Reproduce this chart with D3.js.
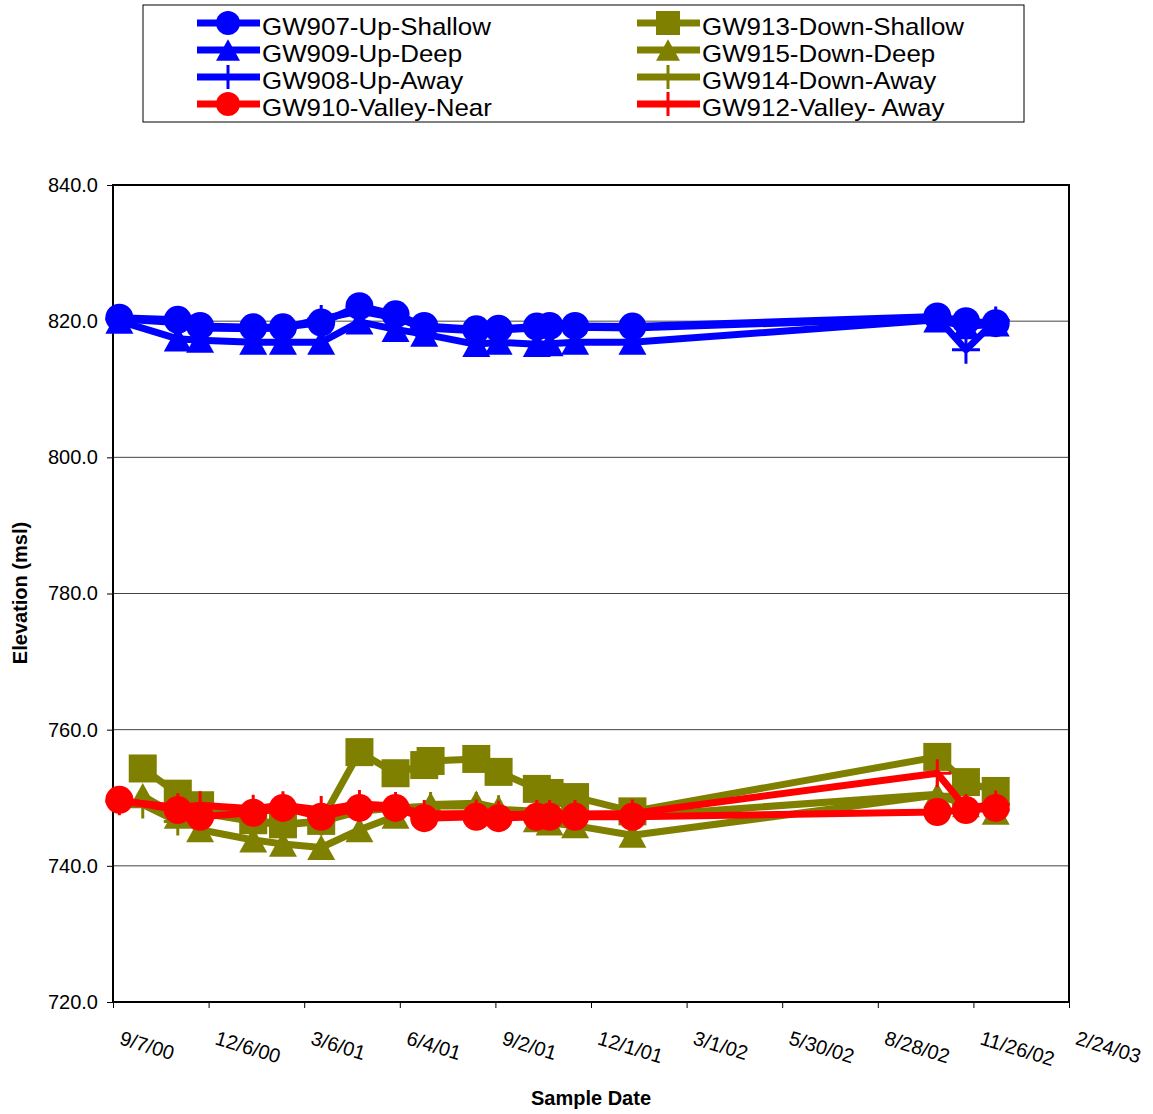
<!DOCTYPE html>
<html>
<head>
<meta charset="utf-8">
<script src="https://cdn.jsdelivr.net/npm/d3@7"></script>
<style>
  body { margin: 0; background: #fff; }
  text { font-family: Arial, "Liberation Sans", sans-serif; }
</style>
</head>
<body>
<svg id="chart" width="1153" height="1114"></svg>
<script>
// ---- data ----------------------------------------------------------------
const xTickLabels = ["9/7/00","12/6/00","3/6/01","6/4/01","9/2/01","12/1/01","3/1/02","5/30/02","8/28/02","11/26/02","2/24/03"];
const yTickLabels = [720, 740, 760, 780, 800, 820, 840];

// sampling dates, upgradient and valley wells
const upDates = ["9/13/00","11/7/00","11/28/00","1/17/01","2/14/01","3/22/01","4/27/01","5/31/01","6/27/01",
                 "8/15/01","9/5/01","10/11/01","10/23/01","11/16/01","1/9/02","10/23/02","11/19/02","12/17/02"];
// sampling dates, downgradient wells
const downDates = ["10/5/00","11/7/00","11/28/00","1/17/01","2/14/01","3/22/01","4/27/01","5/31/01","6/27/01","7/3/01",
                   "8/15/01","9/5/01","10/11/01","10/23/01","11/16/01","1/9/02","10/23/02","11/19/02","12/17/02"];
const deepDates = ["10/5/00","11/7/00","11/28/00","1/17/01","2/14/01","3/22/01","4/27/01","5/31/01","7/3/01",
                   "8/15/01","9/5/01","10/11/01","10/23/01","11/16/01","1/9/02","10/23/02","11/19/02","12/17/02"];

const gw907 = [820.5, 820.2, 819.3, 819.1, 819.1, 819.8, 822.2, 821.0, 819.3, 818.8, 818.9, 819.2, 819.3, 819.3, 819.2, 820.7, 820.0, 819.7];
const gw909 = [820.0, 817.4, 817.2, 816.9, 816.9, 816.9, 819.9, 818.8, 818.1, 816.6, 816.9, 816.6, 816.7, 816.9, 816.9, 820.2, 819.2, 819.6];
const gw908 = [820.3, 819.8, 819.0, 818.9, 819.0, 820.3, 821.5, 820.5, 819.0, 818.6, 818.7, 819.0, 819.0, 819.1, 819.0, 820.5, 815.8, 820.1];
const gw910 = [749.7, 748.2, 747.2, 747.8, 748.5, 747.2, 748.5, 748.5, 747.0, 747.2, 747.0, 747.2, 747.2, 747.2, 747.2, 747.9, 748.2, 748.5];
const gw912 = [749.5, 748.6, 748.9, 748.4, 748.9, 748.2, 749.1, 748.8, 747.6, 747.7, 747.5, 747.6, 747.6, 747.6, 747.7, 753.6, 748.5, 749.0];
const gw913 = [754.3, 750.6, 748.9, 746.7, 746.1, 746.6, 756.7, 753.6, 754.8, 755.4, 755.7, 753.8, 751.3, 750.7, 750.1, 748.0, 756.0, 752.3, 751.0];
const gw915 = [750.3, 747.3, 745.3, 743.8, 743.2, 742.7, 745.3, 747.3, 749.0, 749.2, 748.5, 746.8, 746.3, 745.9, 744.5, 750.4, 749.0, 747.9];
const gw914 = [749.0, 746.5, 747.8, 746.5, 746.0, 746.5, 748.0, 748.5, 748.8, 748.8, 748.3, 748.0, 747.8, 747.6, 747.3, 750.5, 749.0, 748.2];

const BLUE = "#0000ff", OLIVE = "#808000", RED = "#ff0000";

// series in drawing order (later ones sit on top)
const series = [
  { name: "GW907-Up-Shallow",   dates: upDates,   values: gw907, color: BLUE,  marker: "circle" },
  { name: "GW909-Up-Deep",      dates: upDates,   values: gw909, color: BLUE,  marker: "triangle" },
  { name: "GW908-Up-Away",      dates: upDates,   values: gw908, color: BLUE,  marker: "plus" },
  { name: "GW913-Down-Shallow", dates: downDates, values: gw913, color: OLIVE, marker: "square" },
  { name: "GW915-Down-Deep",    dates: deepDates, values: gw915, color: OLIVE, marker: "triangle" },
  { name: "GW914-Down-Away",    dates: deepDates, values: gw914, color: OLIVE, marker: "plus" },
  { name: "GW912-Valley- Away", dates: upDates,   values: gw912, color: RED,   marker: "plus" },
  { name: "GW910-Valley-Near",  dates: upDates,   values: gw910, color: RED,   marker: "circle" }
];
// legend layout: two columns, four rows
const legendLeft  = ["GW907-Up-Shallow","GW909-Up-Deep","GW908-Up-Away","GW910-Valley-Near"];
const legendRight = ["GW913-Down-Shallow","GW915-Down-Deep","GW914-Down-Away","GW912-Valley- Away"];

// ---- chart ---------------------------------------------------------------
const parse = d3.timeParse("%m/%d/%y");
const fmt = d3.timeFormat("%-m/%-d/%y");
const svg = d3.select("#chart");

const plot = { left: 113, right: 1069, top: 185, bottom: 1002 };
const x = d3.scaleTime()
  .domain([parse(xTickLabels[0]), parse(xTickLabels[xTickLabels.length - 1])])
  .range([plot.left, plot.right]);
const y = d3.scaleLinear().domain([720, 840]).range([plot.bottom, plot.top]);

// horizontal gridlines
svg.append("g").selectAll("line")
  .data(yTickLabels.filter(v => v > 720 && v < 840))
  .join("line")
  .attr("x1", plot.left).attr("x2", plot.right)
  .attr("y1", d => y(d)).attr("y2", d => y(d))
  .attr("stroke", "#444").attr("stroke-width", 1);

// axes
const xAxis = svg.append("g")
  .attr("transform", `translate(0,${plot.bottom})`)
  .call(d3.axisBottom(x).tickValues(xTickLabels.map(parse)).tickFormat(fmt).tickSize(6).tickSizeOuter(0));
xAxis.select(".domain").remove();
xAxis.selectAll(".tick line").attr("stroke", "#000");
xAxis.selectAll(".tick text")
  .attr("font-size", 20).attr("fill", "#000")
  .attr("text-anchor", "start")
  .attr("dy", 0)
  .attr("transform", "translate(5,42) rotate(17)")
  .attr("y", 0).attr("x", 0);

const yAxis = svg.append("g")
  .attr("transform", `translate(${plot.left},0)`)
  .call(d3.axisLeft(y).tickValues(yTickLabels).tickFormat(d3.format(".1f")).tickSize(6).tickSizeOuter(0));
yAxis.select(".domain").remove();
yAxis.selectAll(".tick line").attr("stroke", "#000");
yAxis.selectAll(".tick text").attr("font-size", 20).attr("fill", "#000").attr("x", -15);

// plot frame
svg.append("rect")
  .attr("x", plot.left).attr("y", plot.top)
  .attr("width", plot.right - plot.left).attr("height", plot.bottom - plot.top)
  .attr("fill", "none").attr("stroke", "#000").attr("stroke-width", 2);

// axis titles
svg.append("text")
  .attr("x", 591).attr("y", 1105)
  .attr("text-anchor", "middle").attr("font-size", 20).attr("font-weight", "bold")
  .text("Sample Date");
svg.append("text")
  .attr("transform", "translate(27,593) rotate(-90)")
  .attr("text-anchor", "middle").attr("font-size", 20).attr("font-weight", "bold")
  .text("Elevation (msl)");

// marker drawing
function drawMarker(g, kind, color, size) {
  const s = size / 2;
  if (kind === "circle") {
    g.append("circle").attr("r", s).attr("fill", color);
  } else if (kind === "square") {
    g.append("rect").attr("x", -s).attr("y", -s).attr("width", size).attr("height", size).attr("fill", color);
  } else if (kind === "triangle") {
    g.append("path").attr("d", `M0,${-s * 0.9}L${s},${s * 0.9}L${-s},${s * 0.9}Z`).attr("fill", color);
  } else if (kind === "plus") {
    g.append("path").attr("d", `M${-s},0H${s}M0,${-s}V${s}`).attr("stroke", color).attr("stroke-width", 3).attr("fill", "none");
  }
}

const line = d3.line().x(d => x(d.date)).y(d => y(d.value));
const dataLayer = svg.append("g");
series.forEach(s => {
  const pts = s.dates.map((d, i) => ({ date: parse(d), value: s.values[i] }));
  const g = dataLayer.append("g");
  g.append("path").datum(pts).attr("d", line)
    .attr("fill", "none").attr("stroke", s.color).attr("stroke-width", 7)
    .attr("stroke-linejoin", "round");
  g.selectAll("g.m").data(pts).join("g").attr("class", "m")
    .attr("transform", d => `translate(${x(d.date)},${y(d.value)})`)
    .each(function () { drawMarker(d3.select(this), s.marker, s.color, 28); });
});

// legend
const lg = svg.append("g");
lg.append("rect").attr("x", 143).attr("y", 5).attr("width", 881).attr("height", 117)
  .attr("fill", "#fff").attr("stroke", "#000").attr("stroke-width", 1);
const byName = new Map(series.map(s => [s.name, s]));
[[legendLeft, 197], [legendRight, 637]].forEach(([names, x0]) => {
  names.forEach((n, i) => {
    const s = byName.get(n);
    const cy = 23 + i * 27;
    lg.append("line").attr("x1", x0).attr("x2", x0 + 63).attr("y1", cy).attr("y2", cy)
      .attr("stroke", s.color).attr("stroke-width", 7);
    const m = lg.append("g").attr("transform", `translate(${x0 + 31},${cy})`);
    drawMarker(m, s.marker, s.color, 24);
    lg.append("text").attr("x", x0 + 65).attr("y", cy + 12)
      .attr("font-size", 24).attr("fill", "#000")
      .attr("transform", `translate(${x0 + 65},0) scale(1.08,1) translate(${-(x0 + 65)},0)`)
      .text(n);
  });
});
</script>
</body>
</html>
